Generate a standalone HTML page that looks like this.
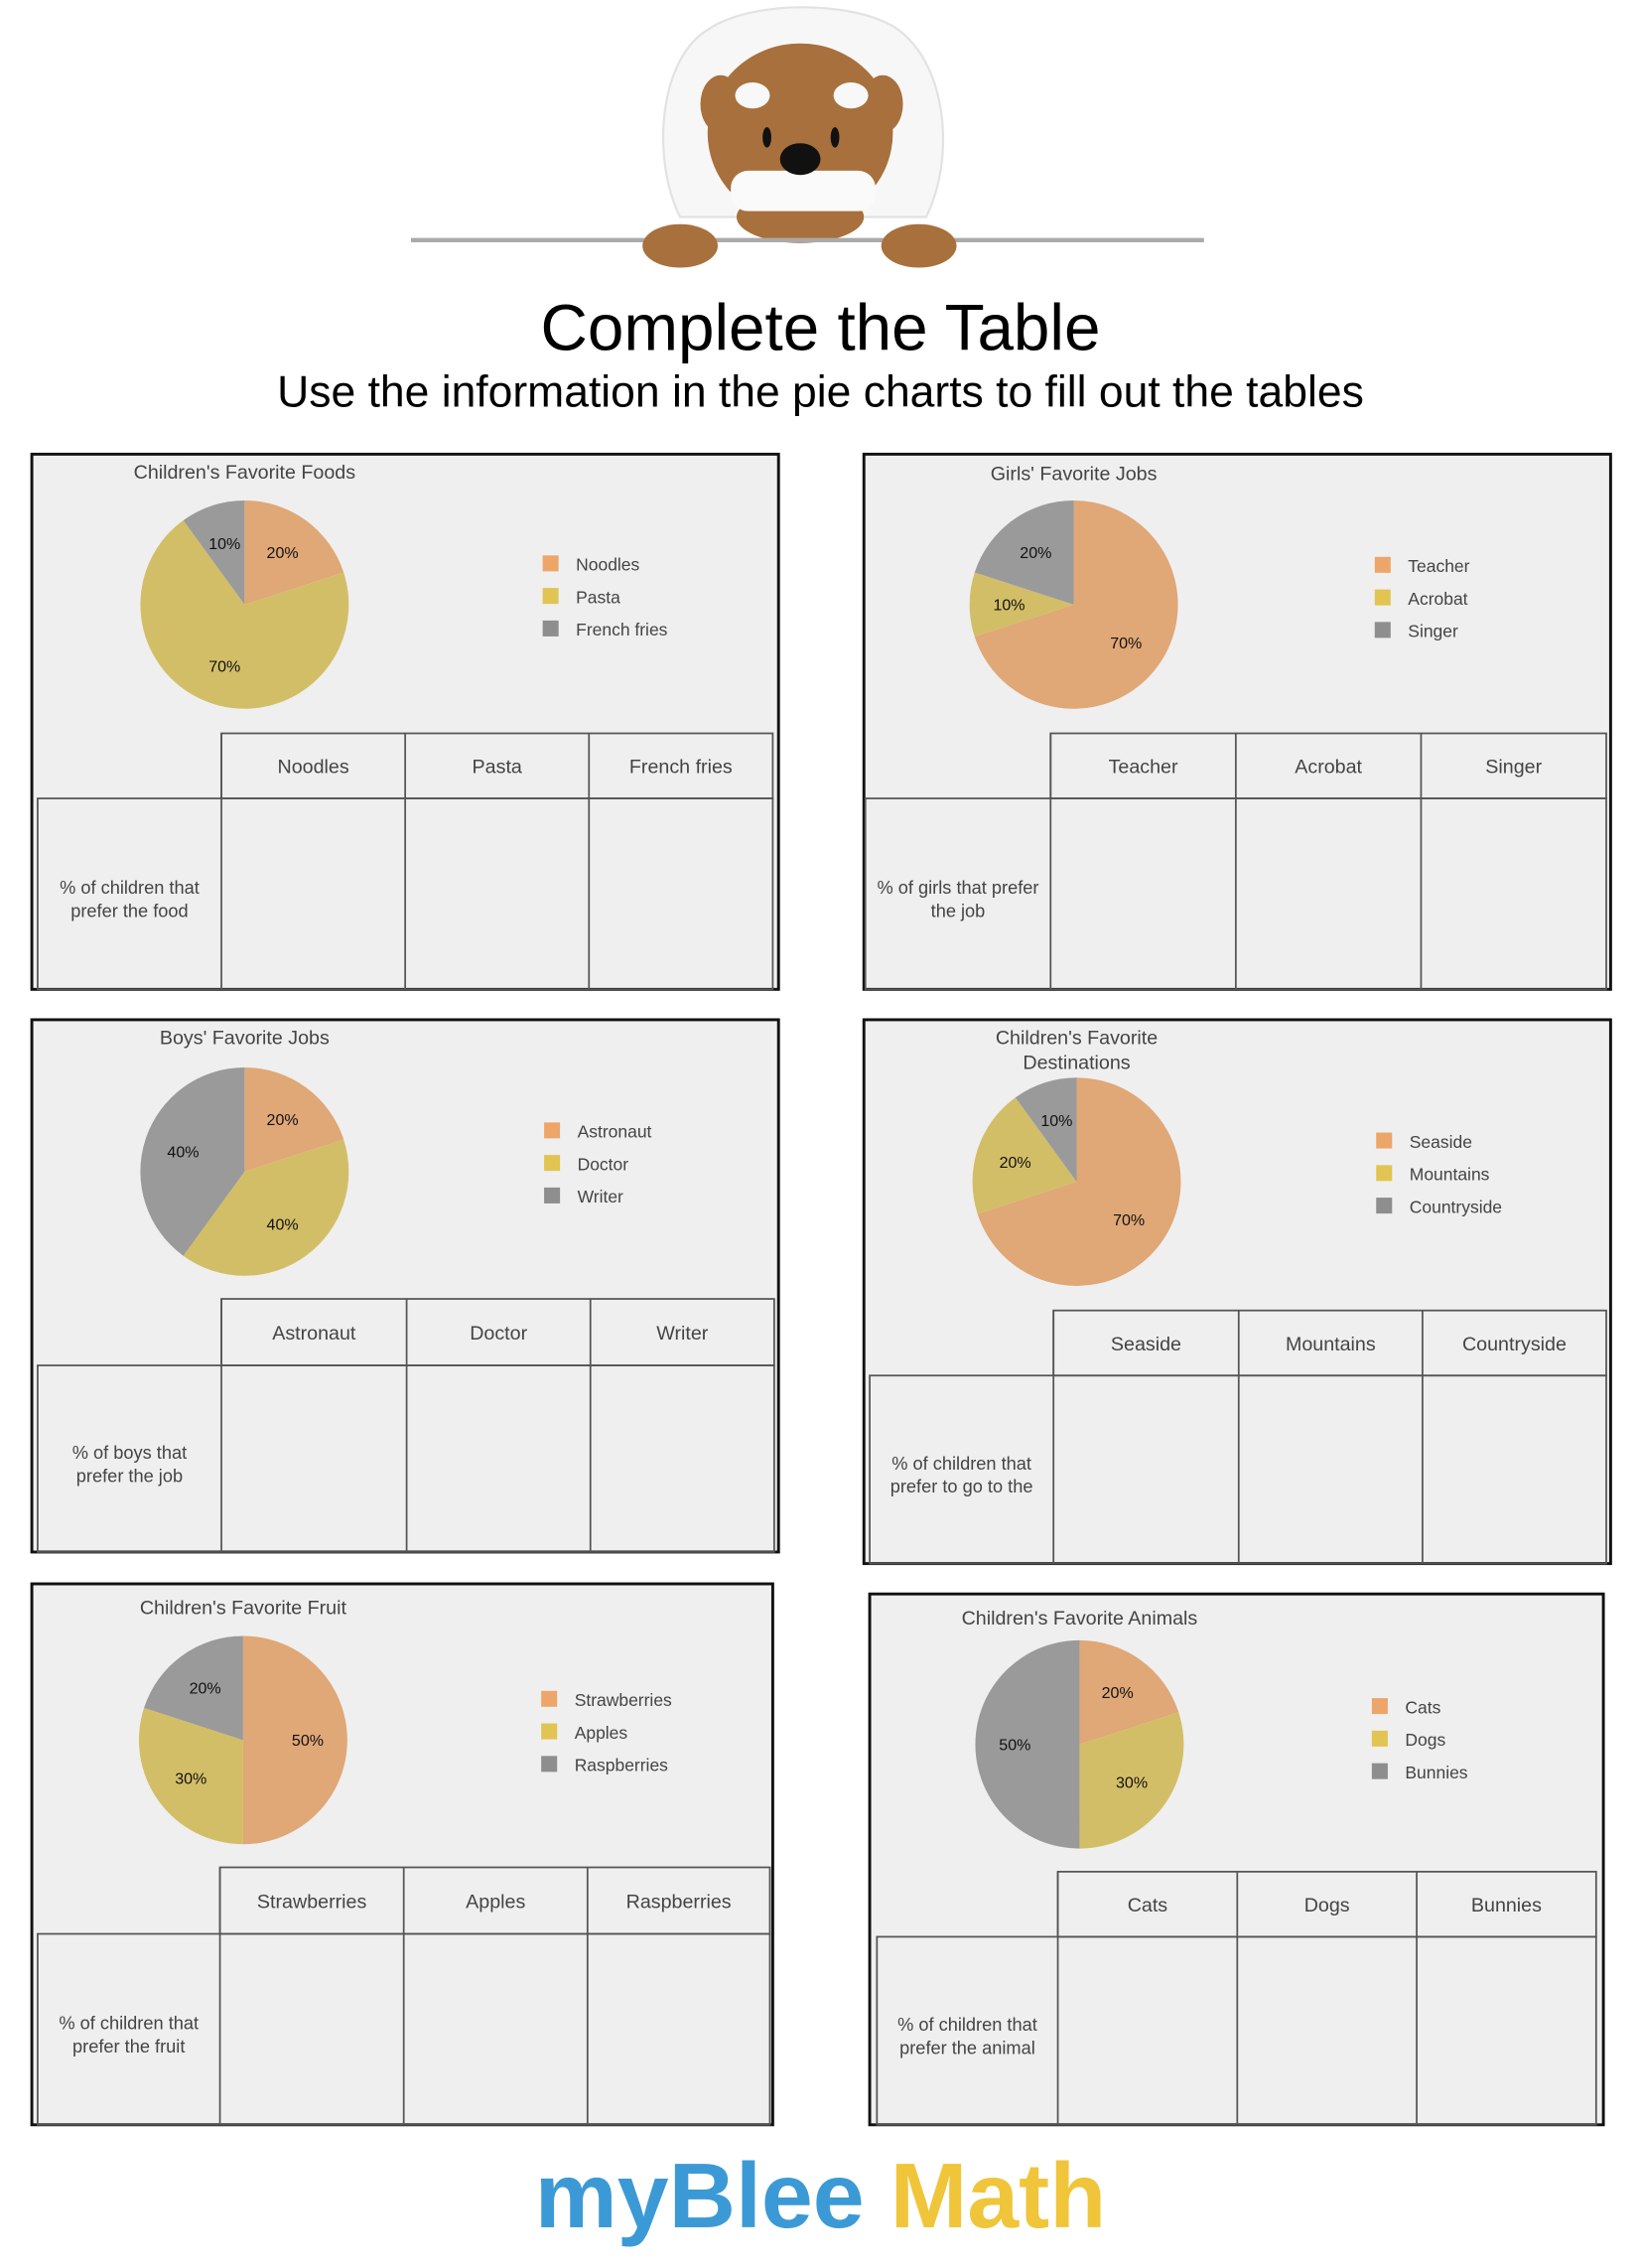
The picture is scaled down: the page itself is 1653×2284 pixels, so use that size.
<!DOCTYPE html>
<html><head><meta charset="utf-8"><style>
html,body{margin:0;padding:0;background:#fff}
svg{display:block}
text{font-family:"Liberation Sans",sans-serif}
</style></head><body>
<svg id="s" width="1653" height="2284" viewBox="0 0 1134 1568" preserveAspectRatio="none" xmlns="http://www.w3.org/2000/svg">
<g>
<path d="M470,150 C450,110 455,40 490,20 C520,0 590,0 620,20 C655,45 660,110 640,150 Z" fill="#f7f7f7" stroke="#e2e2e2" stroke-width="1.5"/>
<ellipse cx="553" cy="92" rx="64" ry="62" fill="#a8703c"/>
<ellipse cx="498" cy="72" rx="14" ry="20" fill="#a8703c"/>
<ellipse cx="610" cy="72" rx="14" ry="20" fill="#a8703c"/>
<ellipse cx="520" cy="66" rx="12" ry="9" fill="#f8f8f8"/>
<ellipse cx="588" cy="66" rx="12" ry="9" fill="#f8f8f8"/>
<ellipse cx="530" cy="95" rx="3" ry="7" fill="#111"/>
<ellipse cx="577" cy="95" rx="3" ry="7" fill="#111"/>
<ellipse cx="553" cy="150" rx="44" ry="18" fill="#a8703c"/>
<rect x="505" y="118" width="100" height="28" rx="12" fill="#fafafa"/>
<ellipse cx="553" cy="110" rx="14" ry="11" fill="#111"/>
<line x1="284" y1="166" x2="832" y2="166" stroke="#aaa" stroke-width="3"/>
<ellipse cx="470" cy="170" rx="26" ry="15" fill="#a8703c"/>
<ellipse cx="635" cy="170" rx="26" ry="15" fill="#a8703c"/>
</g>
<text x="567" y="242" text-anchor="middle" font-size="45">Complete the Table</text>
<text x="567" y="281" text-anchor="middle" font-size="30.5">Use the information in the pie charts to fill out the tables</text>
<text x="567" y="1540" text-anchor="middle" font-size="64" font-weight="bold"><tspan fill="#3b9ad6">myBlee </tspan><tspan fill="#f0c53a">Math</tspan></text>
<g id="panels"></g>
</svg>
<script>
// chart data
const titles = [["Children's Favorite Foods"],["Girls' Favorite Jobs"],["Boys' Favorite Jobs"],["Children's Favorite","Destinations"],["Children's Favorite Fruit"],["Children's Favorite Animals"]];
const categories = [["Noodles","Pasta","French fries"],["Teacher","Acrobat","Singer"],["Astronaut","Doctor","Writer"],["Seaside","Mountains","Countryside"],["Strawberries","Apples","Raspberries"],["Cats","Dogs","Bunnies"]];
const values = [[20,70,10],[70,10,20],[20,40,40],[70,20,10],[50,30,20],[20,30,50]];
const rowLabels = [["% of children that","prefer the food"],["% of girls that prefer","the job"],["% of boys that","prefer the job"],["% of children that","prefer to go to the"],["% of children that","prefer the fruit"],["% of children that","prefer the animal"]];

// layout (not data)
const L = [
 {box:[22,314,538,684],pie:[169,418],leg:[381,390],cols:[153,280,407,534],hdr:[507,552],lab:26,tY:326},
 {box:[597,314,1113,684],pie:[742,418],leg:[956,391],cols:[726,854,982,1110],hdr:[507,552],lab:598,tY:327},
 {box:[22,705,538,1073],pie:[169,810],leg:[382,782],cols:[153,281,408,535],hdr:[898,944],lab:26,tY:717},
 {box:[597,705,1113,1081],pie:[744,817],leg:[957,789],cols:[728,856,983,1110],hdr:[906,951],lab:601,tY:717},
 {box:[22,1095,534,1469],pie:[168,1203],leg:[380,1175],cols:[152,279,406,532],hdr:[1291,1337],lab:26,tY:1111},
 {box:[601,1102,1108,1469],pie:[746,1206],leg:[954,1180],cols:[731,855,979,1103],hdr:[1294,1339],lab:606,tY:1118}
];
const pieCol=["#e0a777","#d3be68","#9a9a9a"], legCol=["#eea56a","#e1c451","#8e8e8e"];
const NS="http://www.w3.org/2000/svg", root=document.getElementById('panels');
function mk(tag,attrs,parent,txt){const e=document.createElementNS(NS,tag);for(const k in attrs)e.setAttribute(k,attrs[k]);if(txt!==undefined)e.textContent=txt;parent.appendChild(e);return e;}
const R=72;
function ang(v){return v/100*2*Math.PI;}
function pt(cx,cy,a,r){return [cx+r*Math.sin(a), cy-r*Math.cos(a)];}
titles.forEach((tl,i)=>{
 const l=L[i];
 const g=mk('g',{},root);
 
 
 const [x0,y0,x1,y1]=l.box;
 const bg=mk('rect',{x:x0,y:y0,width:x1-x0,height:y1-y0,fill:"#efefef",stroke:"#111","stroke-width":2},g);
 
 
 tl.forEach((t,j)=>{const te=mk('text',{x:l.pie[0],y:l.tY+5+j*17,"text-anchor":"middle","font-size":13.5,fill:"#444"},g,t);
  
  });
 let acc=0;const [cx,cy]=l.pie;
 values[i].forEach((v,k)=>{
  const a0=ang(acc),a1=ang(acc+v);acc+=v;
  const p0=pt(cx,cy,a0,R),p1=pt(cx,cy,a1,R);
  const big=(a1-a0)>Math.PI?1:0;
  const s=mk('path',{d:`M${cx},${cy} L${p0[0]},${p0[1]} A${R},${R} 0 ${big} 1 ${p1[0]},${p1[1]} Z`,fill:pieCol[k]},g);
  
  
  const m=(a0+a1)/2, lp=pt(cx,cy,m,R*0.62);
  const lt=mk('text',{x:lp[0],y:lp[1]+4,"text-anchor":"middle","font-size":11,fill:"#111"},g,v+"%");
  
  
 });
 categories[i].forEach((c,k)=>{
  const y=l.leg[1]+k*22.5;
  const sq=mk('rect',{x:l.leg[0]-6,y:y-6,width:11,height:11,fill:legCol[k]},g);
  
  
  const lt=mk('text',{x:l.leg[0]+17,y:y+4.5,"font-size":12,fill:"#444"},g,c);
  
  
 });
 const C=l.cols,[h0,h1]=l.hdr;
 const st={fill:"none",stroke:"#555","stroke-width":1.2};
 const hr=mk('rect',Object.assign({x:C[0],y:h0,width:C[3]-C[0],height:h1-h0},st),g);
 
 
 const br=mk('rect',Object.assign({x:l.lab,y:h1,width:C[3]-l.lab,height:y1-h1},st),g);
 
 
 [C[0],C[1],C[2]].forEach(x=>mk('line',{x1:x,y1:h0,x2:x,y2:y1,stroke:"#555","stroke-width":1.2},g));
 categories[i].forEach((c,k)=>{
  const ht=mk('text',{x:(C[k]+C[k+1])/2,y:(h0+h1)/2+5,"text-anchor":"middle","font-size":13.5,fill:"#444"},g,c);
  
  
  const cell=mk('rect',{x:C[k]+2,y:h1+2,width:C[k+1]-C[k]-4,height:y1-h1-4,fill:"transparent"},g);
  
  
 });
 const my=(h1+y1)/2;
 rowLabels[i].forEach((t,j)=>{const rt=mk('text',{x:(l.lab+C[0])/2,y:my+j*16,"text-anchor":"middle","font-size":12.5,fill:"#444"},g,t);
  
  });
});
</script>
</body></html>
